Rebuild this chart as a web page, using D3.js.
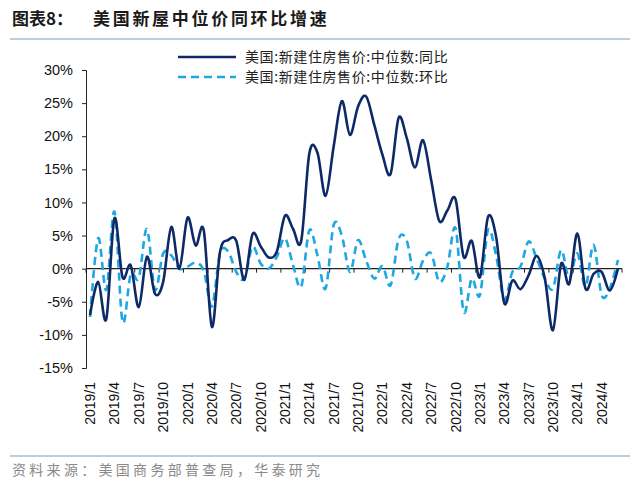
<!DOCTYPE html>
<html><head><meta charset="utf-8">
<script src="https://cdn.jsdelivr.net/npm/d3@7/dist/d3.min.js"></script>
<style>
body{margin:0;background:#fff;}
svg{display:block;}
</style></head>
<body>
<svg id="chart" width="640" height="489"></svg>
<script>
const months = [
"2019/1","2019/2","2019/3","2019/4","2019/5","2019/6","2019/7","2019/8","2019/9","2019/10","2019/11","2019/12",
"2020/1","2020/2","2020/3","2020/4","2020/5","2020/6","2020/7","2020/8","2020/9","2020/10","2020/11","2020/12",
"2021/1","2021/2","2021/3","2021/4","2021/5","2021/6","2021/7","2021/8","2021/9","2021/10","2021/11","2021/12",
"2022/1","2022/2","2022/3","2022/4","2022/5","2022/6","2022/7","2022/8","2022/9","2022/10","2022/11","2022/12",
"2023/1","2023/2","2023/3","2023/4","2023/5","2023/6","2023/7","2023/8","2023/9","2023/10","2023/11","2023/12",
"2024/1","2024/2","2024/3","2024/4","2024/5","2024/6"];
// YoY (%)
const yoy = [
-7.0,-2.0,-7.6,7.6,-1.3,0.5,-5.8,1.8,-3.8,-2.0,6.3,0.0,
7.7,3.5,5.8,-8.8,2.5,4.3,4.2,-1.7,5.2,3.4,1.7,2.6,
8.0,6.0,4.2,17.4,17.5,11.0,18.5,25.3,20.2,24.5,26.0,21.7,
17.2,14.3,22.8,19.7,15.3,19.4,13.4,7.2,8.8,10.5,1.8,4.2,
-1.3,7.8,4.8,-5.2,-1.8,-3.1,-1.0,1.9,-1.5,-9.3,0.7,-2.3,
5.3,-3.0,-0.8,-0.5,-3.3,0.0];
// MoM (%)
const mom = [
-7.3,4.6,-3.2,8.6,-8.0,-0.9,-1.4,6.0,-3.2,2.3,2.0,0.0,
0.3,0.9,-0.3,-5.7,2.3,2.6,-0.5,-1.5,3.3,0.8,0.0,1.8,
4.6,0.5,-2.7,5.8,2.0,-3.0,6.6,5.0,-0.5,4.3,1.2,-1.5,
0.4,-2.5,4.5,4.2,-1.5,1.2,2.3,-2.0,0.3,6.1,-6.5,-1.5,
-4.0,5.8,2.0,-4.7,-0.5,0.3,4.1,1.5,-1.5,-3.0,2.8,-1.5,
2.3,-2.7,3.6,-4.0,-3.0,1.3];
const yTicks = [30,25,20,15,10,5,0,-5,-10,-15];
const seriesNames = ["美国:新建住房售价:中位数:同比","美国:新建住房售价:中位数:环比"];
const titleLead = "图表8：";
const titleText = "美国新屋中位价同环比增速";
const sourceText = "资料来源：美国商务部普查局，华泰研究";

const svg = d3.select("#chart");
const x = d3.scaleBand().domain(months).range([86, 622]);
const y = d3.scaleLinear().domain([-15, 30]).range([368, 70]);
const cx = d => x(d) + x.bandwidth()/2;
const navy = "#0d2a66", light = "#1ea7e1";

// Title
svg.append("text").attr("x", 12).attr("y", 25).attr("font-family","Noto Sans CJK SC")
  .attr("font-weight","bold").attr("font-size",17).attr("fill","#1a1a1a").text(titleLead);
svg.append("text").attr("x", 93).attr("y", 25).attr("font-family","Noto Sans CJK SC")
  .attr("font-weight","bold").attr("font-size",17).attr("letter-spacing",2.7).attr("fill","#1a1a1a").text(titleText);
svg.append("line").attr("x1",10).attr("x2",630).attr("y1",39).attr("y2",39).attr("stroke","#7d9cc0").attr("stroke-width",1.2);
svg.append("line").attr("x1",10).attr("x2",630).attr("y1",456).attr("y2",456).attr("stroke","#7d9cc0").attr("stroke-width",1.2);
svg.append("text").attr("x", 12).attr("y", 475).attr("font-family","Noto Sans CJK SC")
  .attr("font-size",14).attr("letter-spacing",3.3).attr("fill","#8a8a8a").text(sourceText);

// Y axis
const yAxis = d3.axisLeft(y).tickValues(yTicks).tickSize(4).tickFormat(d => d + "%");
const ga = svg.append("g").attr("transform","translate(86,0)").call(yAxis);
ga.select(".domain").attr("stroke","#222").attr("stroke-width",1);
ga.selectAll(".tick line").attr("stroke","#222");
ga.selectAll(".tick text").attr("font-family","Liberation Sans, Arial").attr("font-size",14.5).attr("fill","#111").attr("x",-13);

// X axis at zero line
const bound = months.map((m,i)=>i).filter(i => i % 3 === 0).concat([months.length]);
const gx = svg.append("g");
gx.append("line").attr("x1",86).attr("x2",622).attr("y1",y(0)).attr("y2",y(0)).attr("stroke","#222").attr("stroke-width",1.2);
gx.selectAll(".tk").data(bound).enter().append("line")
  .attr("x1", i => 86 + i * x.step()).attr("x2", i => 86 + i * x.step())
  .attr("y1", y(0)).attr("y2", y(0) + 4).attr("stroke","#222");
// Rotated category labels
svg.append("g").selectAll("text").data(months.filter((m,i)=>i%3===0)).enter().append("text")
  .attr("transform", d => `translate(${cx(d)+5},382) rotate(-90)`)
  .attr("text-anchor","end").attr("font-family","Liberation Sans, Arial").attr("font-size",14)
  .attr("fill","#111").text(d => d);

// Lines
const line = vals => d3.line().x((d,i)=>cx(months[i])).y(d=>y(d)).curve(d3.curveCatmullRom.alpha(0))(vals);
svg.append("path").attr("d", line(mom)).attr("fill","none").attr("stroke",light).attr("stroke-width",2.6).attr("stroke-dasharray","8,5");
svg.append("path").attr("d", line(yoy)).attr("fill","none").attr("stroke",navy).attr("stroke-width",2.6);

// Legend
const lg = svg.append("g");
[[navy,null,57],[light,"8,5",77]].forEach((s,k)=>{
  lg.append("line").attr("x1",178).attr("x2",236).attr("y1",s[2]).attr("y2",s[2])
    .attr("stroke",s[0]).attr("stroke-width",2.6).attr("stroke-dasharray",s[1]);
  lg.append("text").attr("x",245).attr("y",s[2]+5).attr("font-family","Noto Sans CJK SC")
    .attr("font-size",14).attr("letter-spacing",0.6).attr("fill","#222").text(seriesNames[k]);
});
</script>
</body></html>
